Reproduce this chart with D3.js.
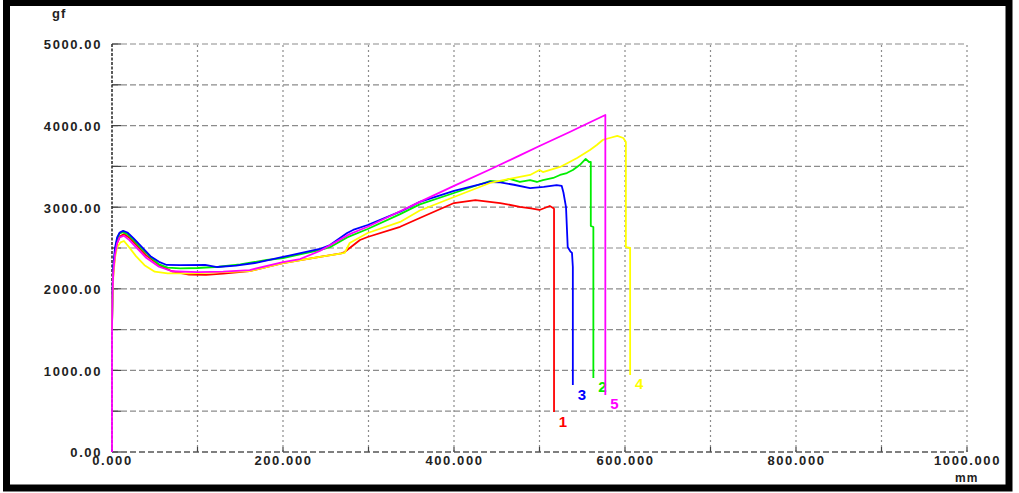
<!DOCTYPE html>
<html><head><meta charset="utf-8">
<script src="https://cdn.jsdelivr.net/npm/d3@7/dist/d3.min.js"></script>
<style>
html,body{margin:0;padding:0;background:#fff;}
svg{display:block;}
.tick text{font-family:"Liberation Sans",Arial,sans-serif;font-weight:bold;font-size:13px;fill:#222;letter-spacing:1.6px;}
</style></head>
<body>
<script>
// ---- data (x in mm, y in gf) ----
const yTicks = [0, 1000, 2000, 3000, 4000, 5000];
const xTicks = [0, 200, 400, 600, 800, 1000];
const seriesNames = ["1", "2", "3", "4", "5"];
const seriesColors = ["#ff0000", "#00ee00", "#0000ff", "#ffff00", "#ff00ff"];

const s1 = [[0,1500],[0.5,1900],[1.5,2200],[3.5,2420],[6,2560],[9,2640],[14,2670],[20,2630],[30,2520],[40,2410],[55,2290],[70,2215],[90,2175],[110,2170],[130,2185],[161,2218],[200,2316],[243,2390],[268,2435],[272,2450],[290,2598],[299,2635],[337,2760],[360,2868],[400,3051],[425,3088],[454,3051],[477,3005],[490,2985],[500,2966],[506,2990],[512,3015],[516,2990],[517,2980],[517,490]];
const s2 = [[0,1500],[0.5,1900],[1.5,2230],[3.5,2460],[6,2610],[9,2680],[13,2695],[18,2670],[25,2600],[35,2490],[45,2390],[55,2300],[65,2260],[80,2250],[100,2255],[125,2270],[150,2300],[181,2353],[200,2377],[243,2475],[255,2510],[275,2630],[299,2733],[337,2915],[360,3035],[400,3174],[442,3321],[454,3309],[465,3346],[477,3309],[489,3333],[497,3309],[504,3333],[516,3358],[524,3395],[532,3419],[539,3456],[547,3517],[554,3591],[558,3554],[560,3554],[560,2770],[563,2757],[563,907]];
const s3 = [[0,1500],[0.5,1950],[1.5,2280],[3.5,2500],[6,2630],[9,2690],[13,2710],[18,2690],[25,2620],[35,2510],[45,2400],[55,2330],[64,2292],[80,2290],[109,2292],[123,2267],[145,2285],[167,2316],[200,2390],[243,2488],[255,2537],[275,2684],[282,2721],[299,2782],[337,2945],[360,3065],[400,3199],[442,3309],[454,3305],[470,3275],[489,3235],[505,3250],[520,3270],[526,3260],[528,3180],[531,3002],[533,2512],[536,2460],[538,2439],[539,2267],[539,821]];
const s4 = [[0,1500],[0.5,1850],[1.5,2150],[3.5,2380],[6,2510],[10,2570],[14,2586],[20,2510],[28,2400],[38,2290],[50,2210],[65,2190],[90,2190],[110,2195],[130,2205],[161,2218],[200,2316],[243,2390],[272,2439],[278,2561],[299,2684],[337,2819],[360,2960],[400,3125],[442,3297],[465,3346],[489,3395],[500,3456],[504,3431],[524,3493],[533,3542],[544,3603],[559,3701],[567,3762],[574,3824],[582,3848],[591,3873],[598,3848],[601,3799],[601,2512],[606,2500],[606,944]];
const s5 = [[0,0],[0,1500],[0.5,1900],[1.5,2200],[3.5,2420],[6,2560],[9,2630],[14,2650],[20,2600],[30,2490],[40,2380],[55,2270],[70,2215],[100,2205],[130,2210],[161,2230],[200,2328],[220,2365],[243,2463],[278,2670],[299,2760],[337,2950],[360,3065],[400,3262],[442,3462],[477,3635],[500,3750],[536,3925],[553,4010],[577,4130],[577,700]];
const allSeries = [s1, s2, s3, s4, s5];

// ---- layout ----
const W = 1019, H = 493;
const svg = d3.select("body").append("svg").attr("width", W).attr("height", H);
svg.append("rect").attr("width", W).attr("height", H).attr("fill", "#fff");

const x = d3.scaleLinear().domain([0, 1000]).range([112, 967]);
const y = d3.scaleLinear().domain([0, 5000]).range([452, 44]);

const g = svg.append("g");

// horizontal grid (every 500)
const hGrid = d3.range(500, 5001, 500);
g.selectAll("line.h").data(hGrid).enter().append("line")
  .attr("x1", x(0)).attr("x2", x(1000))
  .attr("y1", d => y(d)).attr("y2", d => y(d))
  .attr("stroke", "#8c8c8c").attr("stroke-width", 1.2).attr("stroke-dasharray", "6,3");
// vertical grid (every 100)
const vGrid = d3.range(100, 1001, 100);
g.selectAll("line.v").data(vGrid).enter().append("line")
  .attr("x1", d => x(d)).attr("x2", d => x(d))
  .attr("y1", y(0)).attr("y2", y(5000))
  .attr("stroke", "#8c8c8c").attr("stroke-width", 1.2).attr("stroke-dasharray", "2,3");
// left ticks
g.selectAll("line.lt").data(d3.range(0, 5001, 500)).enter().append("line")
  .attr("x1", x(0)).attr("x2", x(0) + 9)
  .attr("y1", d => y(d)).attr("y2", d => y(d))
  .attr("stroke", "#444").attr("stroke-width", 1.2);
// bottom ticks
g.selectAll("line.bt").data(d3.range(0, 1001, 100)).enter().append("line")
  .attr("x1", d => x(d)).attr("x2", d => x(d))
  .attr("y1", y(0)).attr("y2", y(0) - 5)
  .attr("stroke", "#444").attr("stroke-width", 1.2);
// bottom axis line
g.append("line").attr("x1", x(0)).attr("x2", x(1000)).attr("y1", y(0)).attr("y2", y(0))
  .attr("stroke", "#555").attr("stroke-width", 1.3).attr("stroke-dasharray", "6,3");
// left axis line
g.append("line").attr("x1", x(0)).attr("x2", x(0)).attr("y1", y(0)).attr("y2", y(5000))
  .attr("stroke", "#333").attr("stroke-width", 1.6).attr("stroke-dasharray", "3,1.5");

// axes labels via d3 axes
const yAxis = d3.axisLeft(y).tickValues(yTicks).tickFormat(d => d.toFixed(2)).tickSize(0).tickPadding(10);
svg.append("g").attr("transform", `translate(${x(0)},0)`).call(yAxis)
  .call(a => a.select(".domain").remove())
  .selectAll("text").attr("dy", "0.38em");
const xAxis = d3.axisBottom(x).tickValues(xTicks).tickFormat(d => d.toFixed(3)).tickSize(0).tickPadding(4);
svg.append("g").attr("transform", `translate(0,${y(0)})`).call(xAxis)
  .call(a => a.select(".domain").remove());

// units
svg.append("text").attr("x", 52).attr("y", 18).text("gf")
  .attr("font-family", "Liberation Sans, Arial, sans-serif").attr("font-weight", "bold")
  .attr("font-size", 13).attr("fill", "#222").attr("letter-spacing", "1px");
svg.append("text").attr("x", 955).attr("y", 482).text("mm")
  .attr("font-family", "Liberation Sans, Arial, sans-serif").attr("font-weight", "bold")
  .attr("font-size", 12).attr("fill", "#222").attr("letter-spacing", "1px");

// curves
const line = d3.line().x(d => x(d[0])).y(d => y(d[1]));
allSeries.forEach((s, i) => {
  svg.append("path").datum(s).attr("d", line)
    .attr("fill", "none").attr("stroke", seriesColors[i]).attr("stroke-width", 1.8)
    .attr("stroke-linejoin", "round");
  const last = s[s.length - 1];
  svg.append("text").attr("x", x(last[0]) + 9).attr("y", y(last[1]) + 9)
    .attr("text-anchor", "middle").attr("dominant-baseline", "central")
    .attr("font-family", "Liberation Sans, Arial, sans-serif").attr("font-weight", "bold")
    .attr("font-size", 15).attr("fill", seriesColors[i]).text(seriesNames[i]);
});

// outer frame
svg.append("rect").attr("x", 6.5).attr("y", 2.5).attr("width", 1002.5).attr("height", 485.5)
  .attr("fill", "none").attr("stroke", "#000").attr("stroke-width", 7);
</script>
</body></html>
